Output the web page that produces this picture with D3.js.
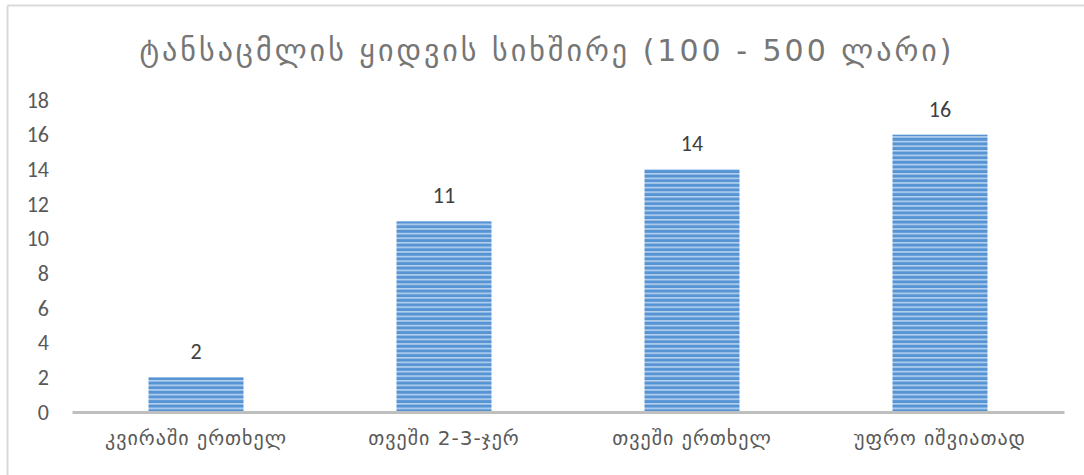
<!DOCTYPE html>
<html>
<head>
<meta charset="utf-8">
<script src="https://cdn.jsdelivr.net/npm/d3@7"></script>
<style>
  html, body { margin: 0; padding: 0; background: #fff; }
  svg { display: block; }
</style>
</head>
<body>
<script>
// Purchase frequency of clothing (100–500 GEL)
const chartTitle = "ტანსაცმლის ყიდვის სიხშირე (100 - 500 ლარი)";
const categories = ["კვირაში ერთხელ", "თვეში 2-3-ჯერ", "თვეში ერთხელ", "უფრო იშვიათად"];
const values = [2, 11, 14, 16];
const yTicks = [0, 2, 4, 6, 8, 10, 12, 14, 16, 18];

const W = 1084, H = 475;
const margin = { left: 72, top: 100 };
const plotRight = 1064;
const numFont = "Carlito, Calibri, 'Liberation Sans', sans-serif";
const geoFont = "'DejaVu Sans', sans-serif";

const svg = d3.select("body").append("svg")
  .attr("width", W).attr("height", H);

// Horizontal stripe fill for the bars
const defs = svg.append("defs");
const pat = defs.append("pattern")
  .attr("id", "stripes")
  .attr("patternUnits", "userSpaceOnUse")
  .attr("width", 8).attr("height", 4.6);
pat.append("rect").attr("width", 8).attr("height", 4.6).attr("fill", "#5694d4");
pat.append("rect").attr("y", 2.8).attr("width", 8).attr("height", 1.5).attr("fill", "#bcd5f0");

// Chart frame (only top and left edges fall inside the view)
svg.append("line").attr("x1", 7.5).attr("x2", W).attr("y1", 5.5).attr("y2", 5.5)
  .attr("stroke", "#d9d9d9").attr("stroke-width", 2);
svg.append("line").attr("x1", 7.5).attr("x2", 7.5).attr("y1", 5.5).attr("y2", H)
  .attr("stroke", "#d9d9d9").attr("stroke-width", 2);

const x = d3.scaleBand()
  .domain(categories)
  .range([margin.left, plotRight])
  .paddingInner(0.617)
  .paddingOuter(0.3085);

const y = d3.scaleLinear()
  .domain([0, 18])
  .range([412, margin.top]);

// Title
svg.append("text")
  .attr("x", 547).attr("y", 61)
  .attr("text-anchor", "middle")
  .attr("font-family", geoFont)
  .attr("font-size", 30)
  .attr("letter-spacing", 3)
  .attr("fill", "#767676")
  .text(chartTitle);

// Y axis labels (no axis line)
const yAxis = d3.axisLeft(y).tickValues(yTicks).tickSize(0).tickPadding(0);
const yg = svg.append("g").attr("transform", "translate(49,0)").call(yAxis);
yg.select(".domain").remove();
yg.selectAll("text")
  .attr("font-family", numFont)
  .attr("font-size", 22)
  .attr("fill", "#595959");

// Bars
svg.append("g").selectAll("rect")
  .data(values)
  .join("rect")
  .attr("x", (d, i) => x(categories[i]))
  .attr("width", x.bandwidth())
  .attr("y", d => y(d))
  .attr("height", d => y(0) - y(d))
  .attr("fill", "url(#stripes)");

// Value labels
svg.append("g").selectAll("text")
  .data(values)
  .join("text")
  .attr("x", (d, i) => x(categories[i]) + x.bandwidth() / 2)
  .attr("y", d => y(d) - 18)
  .attr("text-anchor", "middle")
  .attr("font-family", numFont)
  .attr("font-size", 22)
  .attr("fill", "#404040")
  .text(d => d);

// X axis baseline and category labels
const xAxis = d3.axisBottom(x).tickSize(0).tickPadding(19);
const xg = svg.append("g").attr("transform", `translate(0,${y(0)})`).call(xAxis);
xg.select(".domain")
  .attr("stroke", "#bfbfbf")
  .attr("stroke-width", 3);
xg.selectAll("text")
  .attr("font-family", geoFont)
  .attr("font-size", 20)
  .attr("letter-spacing", 1)
  .attr("fill", "#595959");
</script>
</body>
</html>
